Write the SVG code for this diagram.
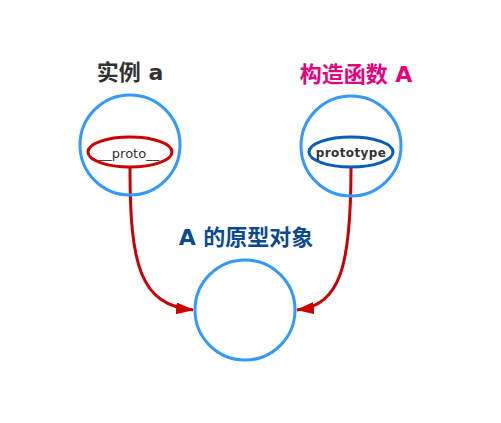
<svg xmlns="http://www.w3.org/2000/svg" width="501" height="423" viewBox="0 0 501 423">
<style>
.ring{fill:none;stroke:#3399ff;stroke-width:3}
.title{font-family:"DejaVu Sans","Noto Sans CJK SC",sans-serif;font-weight:bold;font-size:22px;text-anchor:middle}
.lbl{font-family:"DejaVu Sans","Liberation Sans",sans-serif;font-size:13px;text-anchor:middle;fill:#333}
.link{fill:none;stroke:#cc0000;stroke-width:3}
</style>
<defs>
<marker id="ah" markerWidth="18" markerHeight="12" refX="17" refY="6" orient="auto" markerUnits="userSpaceOnUse">
<path d="M0,0 L18,6 L0,12 Z" fill="#cc0000"/>
</marker>
</defs>
<rect width="501" height="423" fill="#fff"/>
<g id="connectors">
<path class="link" d="M130,168 C130,265 140,305 193,310" marker-end="url(#ah)"/>
<path class="link" d="M351,168 C351,265 341,305 297,310" marker-end="url(#ah)"/>
</g>
<g id="instance">
<text class="title" x="130" y="80" fill="#333">实例 a</text>
<circle class="ring" cx="130" cy="145" r="50"/>
<ellipse cx="130" cy="152" rx="42" ry="15" fill="#fff" stroke="#cc0000" stroke-width="3"/>
<text class="lbl" x="129" y="158">__proto__</text>
</g>
<g id="constructor">
<text class="title" x="356" y="82" fill="#e6007e">构造函数 A</text>
<circle class="ring" cx="351" cy="146" r="50"/>
<ellipse cx="351" cy="152" rx="42" ry="15" fill="#fff" stroke="#0b5db5" stroke-width="3"/>
<text class="lbl" x="351" y="157" style="font-weight:bold;font-size:12px;letter-spacing:0.4px">prototype</text>
</g>
<g id="prototype-object">
<text class="title" x="246" y="245" fill="#0c4a8e">A 的原型对象</text>
<circle class="ring" cx="245" cy="310" r="50"/>
</g>
</svg>
